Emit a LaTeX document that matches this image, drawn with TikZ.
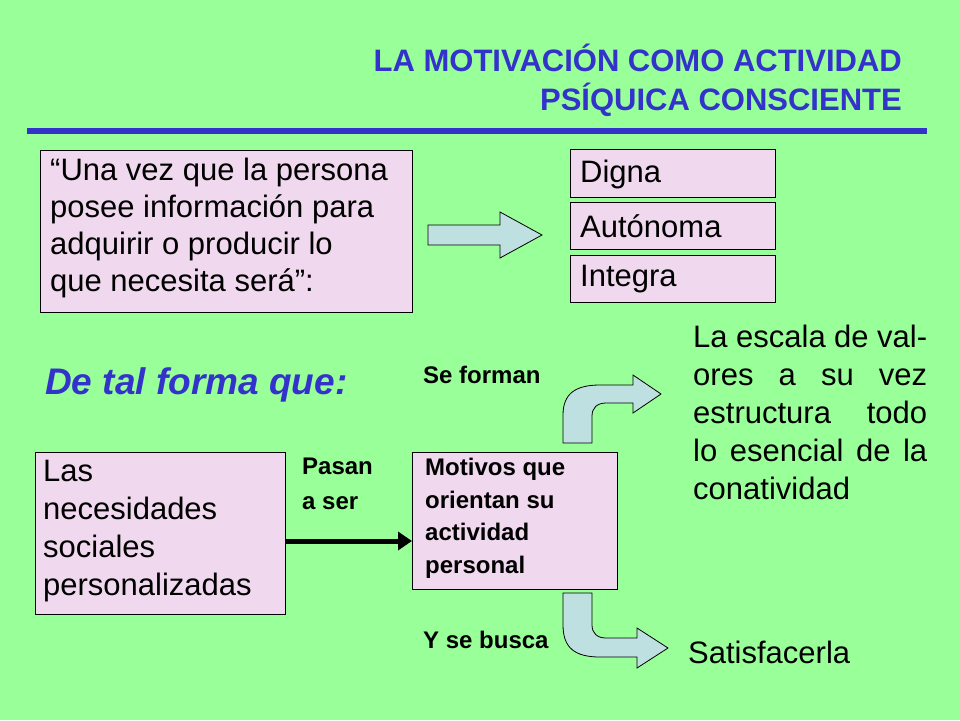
\documentclass[tikz,border=0pt]{standalone}
\usepackage{fontspec}
\setmainfont{Liberation Sans}
\usetikzlibrary{arrows.meta}
\definecolor{bgreen}{HTML}{99FF99}
\definecolor{bpink}{HTML}{F0D8EE}
\definecolor{bblue}{HTML}{3333CC}
\definecolor{barrow}{HTML}{BFE0E0}
\tikzset{
  pinkbox/.style={draw=black,fill=bpink,anchor=north west,inner sep=0pt},
  bodytext/.style={font=\fontsize{31}{38}\selectfont,align=left},
  smallbold/.style={font=\fontsize{24}{33}\selectfont\bfseries,align=left,anchor=north west,inner sep=0pt},
  blockarrow/.style={draw=black,fill=barrow,line width=0.8pt}
}
\begin{document}
\begin{tikzpicture}[x=1pt,y=-1pt]
\useasboundingbox[fill=bgreen] (0,0) rectangle (960,720);
% title
\node[anchor=north east,align=right,text=bblue,font=\fontsize{31}{39}\selectfont\bfseries,inner sep=0pt] (title) at (902,44) {LA MOTIVACIÓN COMO ACTIVIDAD\\PSÍQUICA CONSCIENTE};
\draw[bblue,line width=6pt] (27,131) -- (927,131);
% top row
\draw[pinkbox] (40,150) rectangle (412,312);
\node[bodytext,font=\fontsize{31}{37}\selectfont,anchor=north west,inner sep=0pt] (quote) at (50,158) {“Una vez que la persona\\posee información para\\adquirir o producir lo\\que necesita será”:};
\draw[pinkbox] (570,149) rectangle (775,197);
\node[bodytext,anchor=west,inner sep=0pt] (digna) at (580,174) {Digna};
\draw[pinkbox] (570,202) rectangle (775,249);
\node[bodytext,anchor=west,inner sep=0pt] (auto) at (580,226) {Autónoma};
\draw[pinkbox] (570,255) rectangle (775,302);
\node[bodytext,anchor=west,inner sep=0pt] (integra) at (580,279) {Integra};
\draw[blockarrow] (428,225) -- (500,225) -- (500,212) -- (542,235) -- (500,258) -- (500,245) -- (428,245) -- cycle;
% middle
\node[anchor=west,inner sep=0pt,text=bblue,font=\fontsize{37}{44}\selectfont\bfseries\itshape] (detal) at (45,385) {De tal forma que:};
\node[smallbold,anchor=west] (forman) at (423,375) {Se forman};
\node[bodytext,anchor=north west,inner sep=0pt,text width=234pt,align=justify] (escala) at (693,325) {\hyphenpenalty=10000 La escala de valores a su vez estructura todo lo esencial de la conatividad};
% bottom row
\node[pinkbox,minimum width=250pt,minimum height=162pt] (neces) at (35,452) {};
\node[bodytext,anchor=north west,inner sep=0pt] (necestxt) at (43,460) {Las\\necesidades\\sociales\\personalizadas};
\node[smallbold,font=\fontsize{24}{35}\selectfont\bfseries] (pasan) at (302,458) {Pasan\\a ser};
\node[pinkbox,minimum width=205pt,minimum height=137pt] (motivos) at (412,452) {};
\node[smallbold,font=\fontsize{24}{32.5}\selectfont\bfseries] (motxt) at (425,458) {Motivos que\\orientan su\\actividad\\personal};
\draw[line width=5pt,-{Triangle[length=14pt,width=18pt]}] (neces.east |- 0,541) -- (motivos.west |- 0,541);
\draw[blockarrow] (563,443) -- (563,415) .. controls (563,394) and (575,385) .. (600,385) -- (633,385) -- (633,375) -- (661,394) -- (633,413) -- (633,403) -- (606,403) .. controls (597,403) and (592,408) .. (592,416) -- (592,443) -- cycle;
\draw[blockarrow] (563,593) -- (563,625) .. controls (563,648) and (575,657) .. (600,657) -- (637,657) -- (637,668) -- (668,648) -- (637,628) -- (637,638) -- (606,638) .. controls (597,638) and (592,633) .. (592,625) -- (592,593) -- cycle;
\node[smallbold,anchor=west] (busca) at (423,640) {Y se busca};
\node[bodytext,anchor=west,inner sep=0pt] (satis) at (688,652) {Satisfacerla};
\end{tikzpicture}
\end{document}
